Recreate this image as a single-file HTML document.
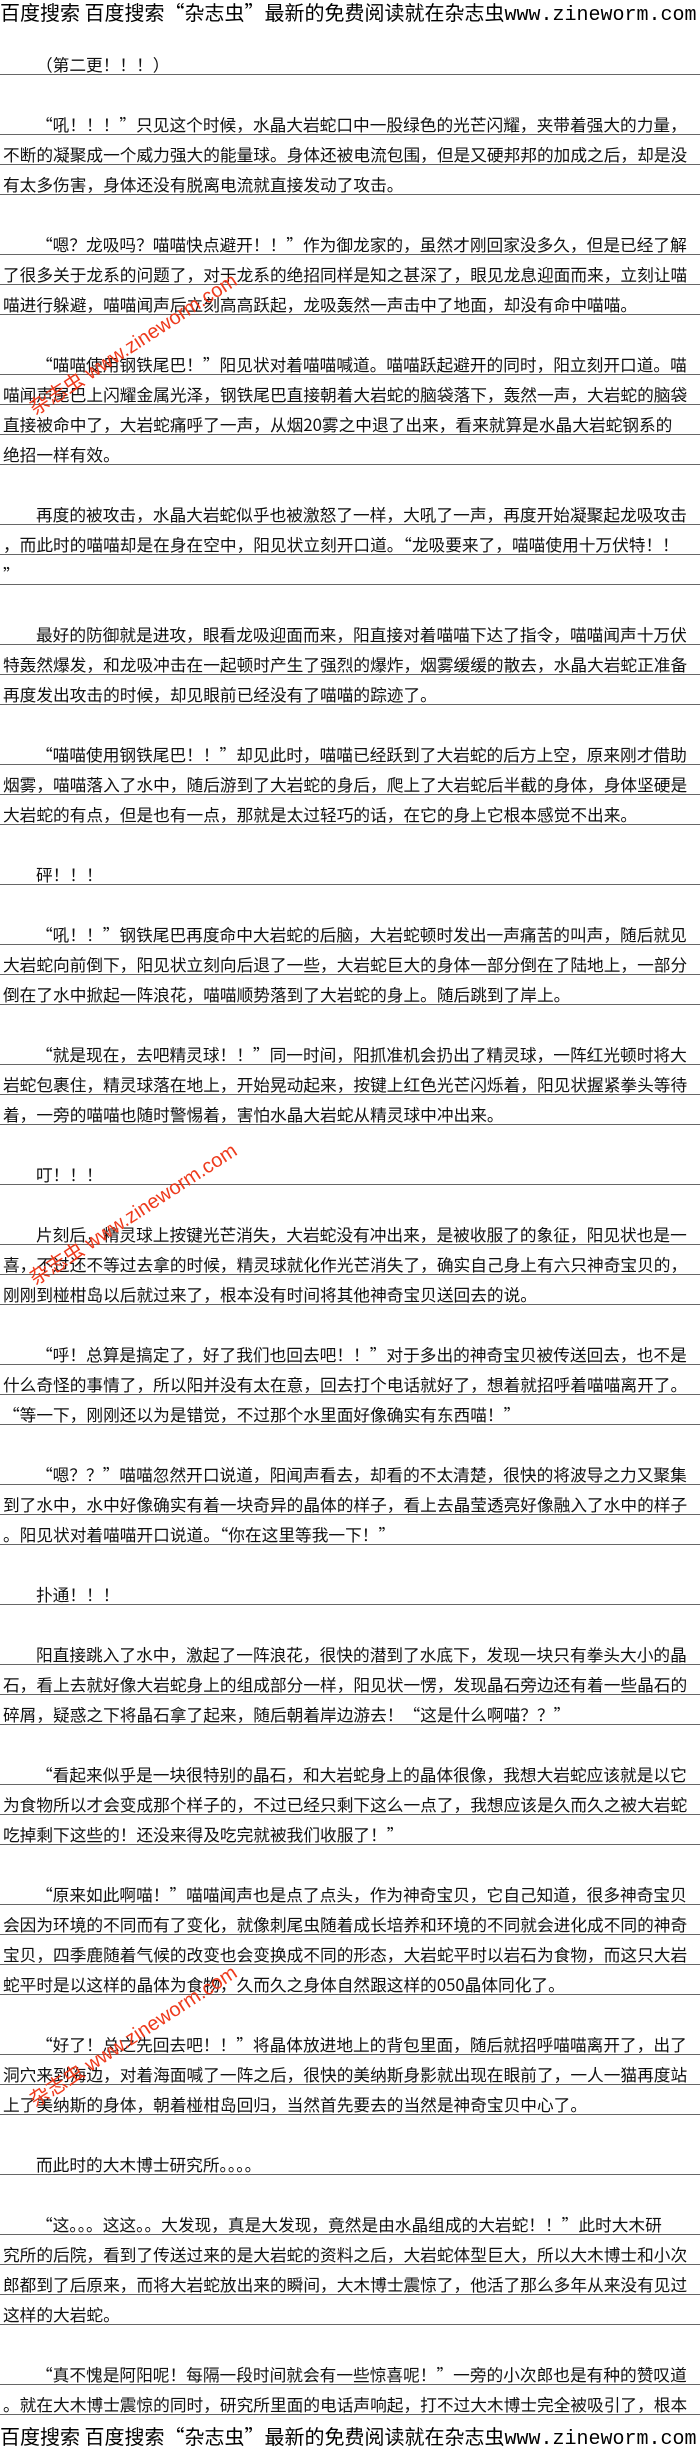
<!DOCTYPE html>
<html><head><meta charset="utf-8">
<style>
html,body{margin:0;padding:0;background:#fff;}
body{width:700px;height:2450px;position:relative;overflow:hidden;font-family:"Noto Sans CJK SC","Liberation Mono",monospace;color:#111;}
.l{position:absolute;left:0;width:697px;height:20px;line-height:20px;border-bottom:1px solid #666;padding-left:3px;box-sizing:content-box;white-space:nowrap;font-size:16.7px;}
.i{padding-left:36px;width:664px;}
.hd{position:absolute;left:0;width:700px;white-space:nowrap;font-size:20px;line-height:24px;color:#000;font-family:"WenQuanYi Zen Hei","Noto Sans CJK SC",sans-serif;}
.hd span{font-family:"Liberation Mono",monospace;font-size:20px;}
.wm{position:absolute;color:#ee3a1c;font-family:"Liberation Sans","Noto Sans CJK SC",sans-serif;font-size:20px;white-space:nowrap;transform-origin:0 100%;transform:rotate(-33deg);line-height:22px;}
</style></head><body>
<div class="hd" style="top:0">百度搜索 百度搜索“杂志虫”最新的免费阅读就在杂志虫<span>www.zineworm.com</span></div>

<div class="l i" style="top:54px">（第二更！！！）</div>
<div class="l i" style="top:114px">“吼！！！”只见这个时候，水晶大岩蛇口中一股绿色的光芒闪耀，夹带着强大的力量，</div>
<div class="l" style="top:144px">不断的凝聚成一个威力强大的能量球。身体还被电流包围，但是又硬邦邦的加成之后，却是没</div>
<div class="l" style="top:174px">有太多伤害，身体还没有脱离电流就直接发动了攻击。</div>
<div class="l i" style="top:234px">“嗯？龙吸吗？喵喵快点避开！！”作为御龙家的，虽然才刚回家没多久，但是已经了解</div>
<div class="l" style="top:264px">了很多关于龙系的问题了，对于龙系的绝招同样是知之甚深了，眼见龙息迎面而来，立刻让喵</div>
<div class="l" style="top:294px">喵进行躲避，喵喵闻声后立刻高高跃起，龙吸轰然一声击中了地面，却没有命中喵喵。</div>
<div class="l i" style="top:354px">“喵喵使用钢铁尾巴！”阳见状对着喵喵喊道。喵喵跃起避开的同时，阳立刻开口道。喵</div>
<div class="l" style="top:384px">喵闻声尾巴上闪耀金属光泽，钢铁尾巴直接朝着大岩蛇的脑袋落下，轰然一声，大岩蛇的脑袋</div>
<div class="l" style="top:414px">直接被命中了，大岩蛇痛呼了一声，从烟20雾之中退了出来，看来就算是水晶大岩蛇钢系的</div>
<div class="l" style="top:444px">绝招一样有效。</div>
<div class="l i" style="top:504px">再度的被攻击，水晶大岩蛇似乎也被激怒了一样，大吼了一声，再度开始凝聚起龙吸攻击</div>
<div class="l" style="top:534px">，而此时的喵喵却是在身在空中，阳见状立刻开口道。“龙吸要来了，喵喵使用十万伏特！！</div>
<div class="l" style="top:564px">”</div>
<div class="l i" style="top:624px">最好的防御就是进攻，眼看龙吸迎面而来，阳直接对着喵喵下达了指令，喵喵闻声十万伏</div>
<div class="l" style="top:654px">特轰然爆发，和龙吸冲击在一起顿时产生了强烈的爆炸，烟雾缓缓的散去，水晶大岩蛇正准备</div>
<div class="l" style="top:684px">再度发出攻击的时候，却见眼前已经没有了喵喵的踪迹了。</div>
<div class="l i" style="top:744px">“喵喵使用钢铁尾巴！！”却见此时，喵喵已经跃到了大岩蛇的后方上空，原来刚才借助</div>
<div class="l" style="top:774px">烟雾，喵喵落入了水中，随后游到了大岩蛇的身后，爬上了大岩蛇后半截的身体，身体坚硬是</div>
<div class="l" style="top:804px">大岩蛇的有点，但是也有一点，那就是太过轻巧的话，在它的身上它根本感觉不出来。</div>
<div class="l i" style="top:864px">砰！！！</div>
<div class="l i" style="top:924px">“吼！！”钢铁尾巴再度命中大岩蛇的后脑，大岩蛇顿时发出一声痛苦的叫声，随后就见</div>
<div class="l" style="top:954px">大岩蛇向前倒下，阳见状立刻向后退了一些，大岩蛇巨大的身体一部分倒在了陆地上，一部分</div>
<div class="l" style="top:984px">倒在了水中掀起一阵浪花，喵喵顺势落到了大岩蛇的身上。随后跳到了岸上。</div>
<div class="l i" style="top:1044px">“就是现在，去吧精灵球！！”同一时间，阳抓准机会扔出了精灵球，一阵红光顿时将大</div>
<div class="l" style="top:1074px">岩蛇包裹住，精灵球落在地上，开始晃动起来，按键上红色光芒闪烁着，阳见状握紧拳头等待</div>
<div class="l" style="top:1104px">着，一旁的喵喵也随时警惕着，害怕水晶大岩蛇从精灵球中冲出来。</div>
<div class="l i" style="top:1164px">叮！！！</div>
<div class="l i" style="top:1224px">片刻后，精灵球上按键光芒消失，大岩蛇没有冲出来，是被收服了的象征，阳见状也是一</div>
<div class="l" style="top:1254px">喜，不过还不等过去拿的时候，精灵球就化作光芒消失了，确实自己身上有六只神奇宝贝的，</div>
<div class="l" style="top:1284px">刚刚到椪柑岛以后就过来了，根本没有时间将其他神奇宝贝送回去的说。</div>
<div class="l i" style="top:1344px">“呼！总算是搞定了，好了我们也回去吧！！”对于多出的神奇宝贝被传送回去，也不是</div>
<div class="l" style="top:1374px">什么奇怪的事情了，所以阳并没有太在意，回去打个电话就好了，想着就招呼着喵喵离开了。</div>
<div class="l" style="top:1404px">“等一下，刚刚还以为是错觉，不过那个水里面好像确实有东西喵！”</div>
<div class="l i" style="top:1464px">“嗯？？”喵喵忽然开口说道，阳闻声看去，却看的不太清楚，很快的将波导之力又聚集</div>
<div class="l" style="top:1494px">到了水中，水中好像确实有着一块奇异的晶体的样子，看上去晶莹透亮好像融入了水中的样子</div>
<div class="l" style="top:1524px">。阳见状对着喵喵开口说道。“你在这里等我一下！”</div>
<div class="l i" style="top:1584px">扑通！！！</div>
<div class="l i" style="top:1644px">阳直接跳入了水中，激起了一阵浪花，很快的潜到了水底下，发现一块只有拳头大小的晶</div>
<div class="l" style="top:1674px">石，看上去就好像大岩蛇身上的组成部分一样，阳见状一愣，发现晶石旁边还有着一些晶石的</div>
<div class="l" style="top:1704px">碎屑，疑惑之下将晶石拿了起来，随后朝着岸边游去！“这是什么啊喵？？”</div>
<div class="l i" style="top:1764px">“看起来似乎是一块很特别的晶石，和大岩蛇身上的晶体很像，我想大岩蛇应该就是以它</div>
<div class="l" style="top:1794px">为食物所以才会变成那个样子的，不过已经只剩下这么一点了，我想应该是久而久之被大岩蛇</div>
<div class="l" style="top:1824px">吃掉剩下这些的！还没来得及吃完就被我们收服了！”</div>
<div class="l i" style="top:1884px">“原来如此啊喵！”喵喵闻声也是点了点头，作为神奇宝贝，它自己知道，很多神奇宝贝</div>
<div class="l" style="top:1914px">会因为环境的不同而有了变化，就像刺尾虫随着成长培养和环境的不同就会进化成不同的神奇</div>
<div class="l" style="top:1944px">宝贝，四季鹿随着气候的改变也会变换成不同的形态，大岩蛇平时以岩石为食物，而这只大岩</div>
<div class="l" style="top:1974px">蛇平时是以这样的晶体为食物，久而久之身体自然跟这样的050晶体同化了。</div>
<div class="l i" style="top:2034px">“好了！总之先回去吧！！”将晶体放进地上的背包里面，随后就招呼喵喵离开了，出了</div>
<div class="l" style="top:2064px">洞穴来到海边，对着海面喊了一阵之后，很快的美纳斯身影就出现在眼前了，一人一猫再度站</div>
<div class="l" style="top:2094px">上了美纳斯的身体，朝着椪柑岛回归，当然首先要去的当然是神奇宝贝中心了。</div>
<div class="l i" style="top:2154px">而此时的大木博士研究所。。。。</div>
<div class="l i" style="top:2214px">“这。。。这这。。大发现，真是大发现，竟然是由水晶组成的大岩蛇！！”此时大木研</div>
<div class="l" style="top:2244px">究所的后院，看到了传送过来的是大岩蛇的资料之后，大岩蛇体型巨大，所以大木博士和小次</div>
<div class="l" style="top:2274px">郎都到了后原来，而将大岩蛇放出来的瞬间，大木博士震惊了，他活了那么多年从来没有见过</div>
<div class="l" style="top:2304px">这样的大岩蛇。</div>
<div class="l i" style="top:2364px">“真不愧是阿阳呢！每隔一段时间就会有一些惊喜呢！”一旁的小次郎也是有种的赞叹道</div>
<div class="l" style="top:2394px">。就在大木博士震惊的同时，研究所里面的电话声响起，打不过大木博士完全被吸引了，根本</div>

<div class="hd" style="top:2424px">百度搜索 百度搜索“杂志虫”最新的免费阅读就在杂志虫<span>www.zineworm.com</span></div>

<div class="wm" style="left:38px;top:398px">杂志虫 www.zineworm.com</div>
<div class="wm" style="left:38px;top:1268px">杂志虫 www.zineworm.com</div>
<div class="wm" style="left:38px;top:2090px">杂志虫 www.zineworm.com</div>
</body></html>
